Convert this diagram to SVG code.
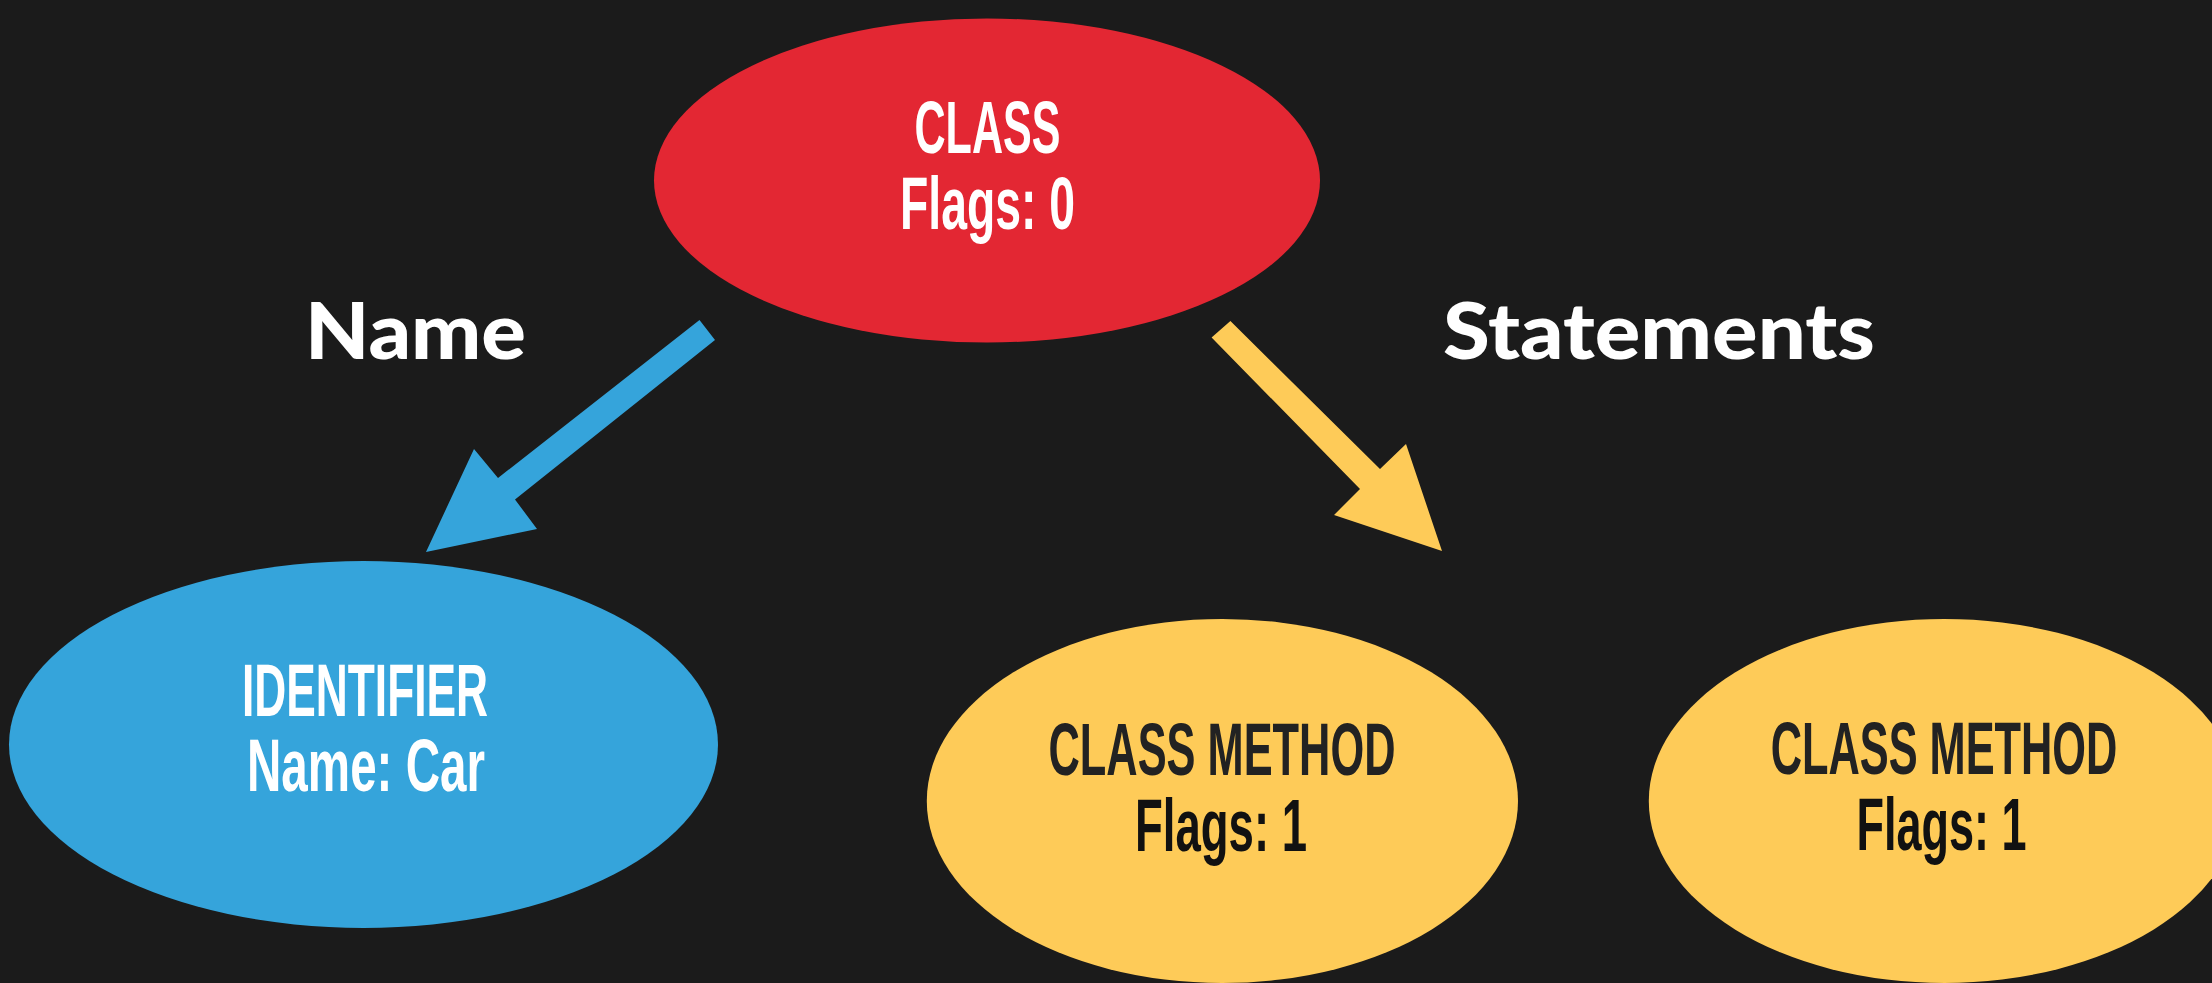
<svg xmlns="http://www.w3.org/2000/svg" width="2212" height="983" viewBox="0 0 2212 983">
  <style>
    .node-text { font-family: "Liberation Sans", "DejaVu Sans", sans-serif; font-weight: bold; font-size: 74px; text-anchor: middle; }
    .label { font-family: "Lato", "Noto Sans", "Liberation Sans", sans-serif; font-weight: 900; font-size: 79px; fill: #ffffff; }
    .white { fill: #ffffff; }
    .dark { fill: #222222; }
    .black { fill: #111111; }
  </style>
  <rect x="0" y="0" width="2212" height="983" fill="#1b1b1b"/>

  <g id="connectors">
    <polygon id="edge-name" fill="#35a4db" points="699.5,320 715,340 515,499.5 537,529 426,552 474,449 498,478"/>
    <polygon id="edge-statements" fill="#fecb58" points="1230.4,321 1380,469 1406,444 1442,551 1334,515 1360,489 1211.6,337.5"/>
    <text class="label" x="305" y="359" textLength="221" lengthAdjust="spacingAndGlyphs">Name</text>
    <text class="label" x="1443" y="359" textLength="432" lengthAdjust="spacingAndGlyphs">Statements</text>
  </g>

  <g id="node-class">
    <ellipse cx="987" cy="180.5" rx="333" ry="162" fill="#e32733"/>
    <text class="node-text white" x="987.5" y="153" textLength="146" lengthAdjust="spacingAndGlyphs">CLASS</text>
    <text class="node-text white" x="987.5" y="229" textLength="175" lengthAdjust="spacingAndGlyphs">Flags: 0</text>
  </g>

  <g id="node-identifier">
    <ellipse cx="363.5" cy="744.5" rx="354.5" ry="183.5" fill="#35a4db"/>
    <text class="node-text white" x="365" y="716" textLength="246" lengthAdjust="spacingAndGlyphs">IDENTIFIER</text>
    <text class="node-text white" x="366" y="791" textLength="238" lengthAdjust="spacingAndGlyphs">Name: Car</text>
  </g>

  <g id="node-method-1">
    <ellipse cx="1222.4" cy="801" rx="295.6" ry="182" fill="#fecb58"/>
    <text class="node-text dark" x="1222" y="775" textLength="347" lengthAdjust="spacingAndGlyphs">CLASS METHOD</text>
    <text class="node-text black" x="1221" y="851" textLength="172" lengthAdjust="spacingAndGlyphs">Flags: 1</text>
  </g>

  <g id="node-method-2">
    <ellipse cx="1944.4" cy="801" rx="295.6" ry="182" fill="#fecb58"/>
    <text class="node-text dark" x="1944" y="774" textLength="346.6" lengthAdjust="spacingAndGlyphs">CLASS METHOD</text>
    <text class="node-text black" x="1941.5" y="849.5" textLength="170" lengthAdjust="spacingAndGlyphs">Flags: 1</text>
  </g>
</svg>
